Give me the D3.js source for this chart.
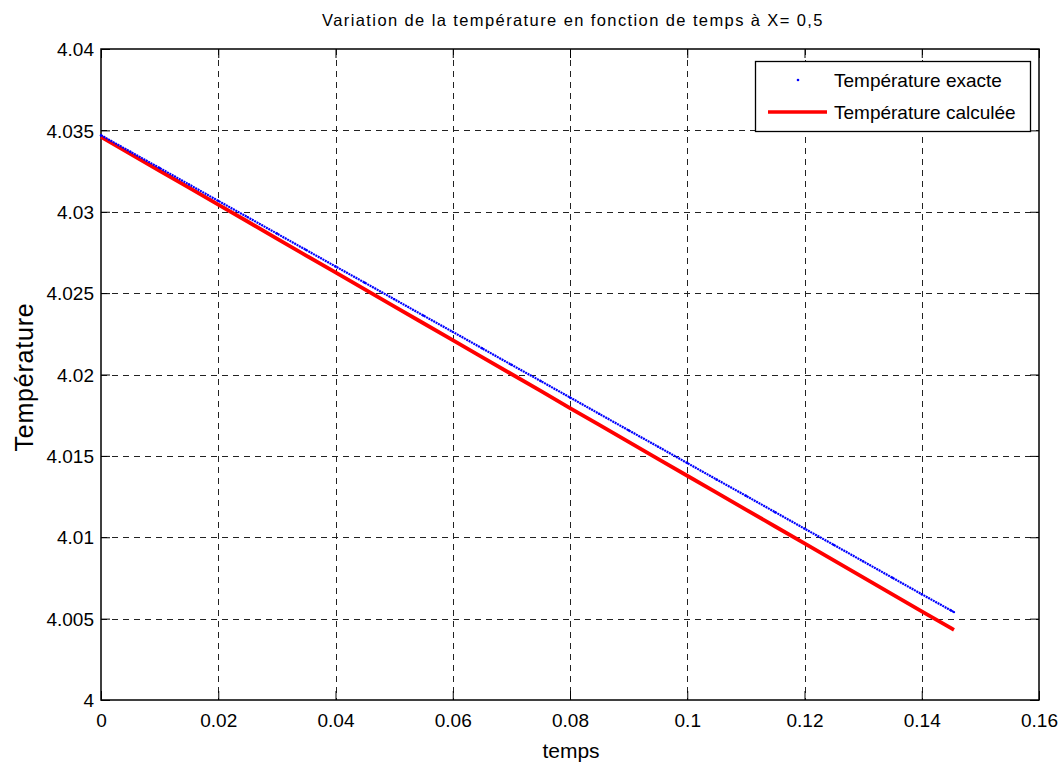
<!DOCTYPE html>
<html><head><meta charset="utf-8">
<script src="https://cdn.jsdelivr.net/npm/d3@7"></script>
<style>
html,body{margin:0;padding:0;background:#fff;}
svg{display:block;font-family:"Liberation Sans",Arial,Helvetica,sans-serif;}
</style></head>
<body><svg id="c" width="1063" height="769"></svg>
<script>
// ---- data ----
const temps = [0,0.005,0.01,0.015,0.02,0.025,0.03,0.035,0.04,0.045,0.05,0.055,0.06,0.065,0.07,0.075,0.08,0.085,0.09,0.095,0.1,0.105,0.11,0.115,0.12,0.125,0.13,0.135,0.14,0.145,0.1455];
const tempExacte = [4.03470,4.03369,4.03269,4.03168,4.03067,4.02967,4.02866,4.02765,4.02664,4.02564,4.02463,4.02362,4.02262,4.02161,4.02060,4.01960,4.01859,4.01758,4.01657,4.01557,4.01456,4.01355,4.01255,4.01154,4.01053,4.00953,4.00852,4.00751,4.00650,4.00550,4.00540];
const tempCalculee = [4.03460,4.03356,4.03252,4.03148,4.03044,4.02940,4.02835,4.02731,4.02627,4.02523,4.02419,4.02315,4.02211,4.02107,4.02003,4.01899,4.01794,4.01690,4.01586,4.01482,4.01378,4.01274,4.01170,4.01066,4.00962,4.00858,4.00754,4.00649,4.00545,4.00441,4.00431];
const xTicks = [0,0.02,0.04,0.06,0.08,0.1,0.12,0.14,0.16];
const xTickLabels = ["0","0.02","0.04","0.06","0.08","0.1","0.12","0.14","0.16"];
const yTicks = [4,4.005,4.01,4.015,4.02,4.025,4.03,4.035,4.04];
const yTickLabels = ["4","4.005","4.01","4.015","4.02","4.025","4.03","4.035","4.04"];
const seriesNames = ["Température exacte","Température calculée"];
const titleText = "Variation de la température en fonction de temps à X= 0,5";
const xLabel = "temps";
const yLabel = "Température";

// ---- layout ----
const L = 101, R = 1039, T = 49, B = 700;
const svg = d3.select("#c");
const x = d3.scaleLinear().domain([0,0.16]).range([L,R]);
const y = d3.scaleLinear().domain([4,4.04]).range([B,T]);

// grid
const grid = svg.append("g").attr("stroke","#222").attr("stroke-width",1).attr("stroke-dasharray","6,5");
grid.selectAll("line.gx").data(xTicks.slice(1,-1)).enter().append("line")
  .attr("x1",d=>Math.round(x(d))+0.5).attr("x2",d=>Math.round(x(d))+0.5).attr("y1",T).attr("y2",B);
grid.selectAll("line.gy").data(yTicks.slice(1,-1)).enter().append("line")
  .attr("y1",d=>Math.round(y(d))+0.5).attr("y2",d=>Math.round(y(d))+0.5).attr("x1",L).attr("x2",R);

// axes with d3 axis generators (inner ticks on all sides)
const tl = 9;
const fmtX = d => xTickLabels[xTicks.indexOf(d)];
const fmtY = d => yTickLabels[yTicks.indexOf(d)];
const axB = svg.append("g").attr("transform",`translate(0,${B})`)
  .call(d3.axisBottom(x).tickValues(xTicks).tickFormat(fmtX).tickSizeInner(-tl).tickSizeOuter(0).tickPadding(14));
const axT = svg.append("g").attr("transform",`translate(0,${T})`)
  .call(d3.axisTop(x).tickValues(xTicks).tickFormat("").tickSizeInner(-tl).tickSizeOuter(0));
const axL = svg.append("g").attr("transform",`translate(${L},0)`)
  .call(d3.axisLeft(y).tickValues(yTicks).tickFormat(fmtY).tickSizeInner(-tl).tickSizeOuter(0).tickPadding(7));
const axR = svg.append("g").attr("transform",`translate(${R},0)`)
  .call(d3.axisRight(y).tickValues(yTicks).tickFormat("").tickSizeInner(-tl).tickSizeOuter(0));
[axB,axT,axL,axR].forEach(a=>{
  a.select(".domain").remove();
  a.selectAll("line").attr("stroke","#000").attr("stroke-width",1);
  a.selectAll("text").attr("fill","#000").attr("font-size",19).attr("font-family","'Liberation Sans',Arial,sans-serif");
});
axL.selectAll("text").attr("dy","0.35em");

// box
svg.append("rect").attr("x",L).attr("y",T).attr("width",R-L).attr("height",B-T)
  .attr("fill","none").attr("stroke","#000").attr("stroke-width",1.5);

// series
const lineGen = (vals) => d3.line().x((d,i)=>x(temps[i])).y((d,i)=>y(vals[i]))(vals);
svg.append("path").attr("d",lineGen(tempCalculee)).attr("fill","none").attr("stroke","#ff0000").attr("stroke-width",3.8).attr("stroke-linejoin","round");
svg.append("path").attr("d",lineGen(tempExacte)).attr("fill","none").attr("stroke","#0000ff").attr("stroke-width",2.2).attr("stroke-dasharray","2,0.7");
svg.append("g").selectAll("circle").data(tempExacte).enter().append("circle")
  .attr("cx",(d,i)=>x(temps[i])).attr("cy",d=>y(d)).attr("r",1.2).attr("fill","#0000ff");

// legend
const lg = svg.append("g");
lg.append("rect").attr("x",755.5).attr("y",61.5).attr("width",275).attr("height",70)
  .attr("fill","#fff").attr("stroke","#000").attr("stroke-width",1.3);
lg.append("circle").attr("cx",798).attr("cy",80).attr("r",1.3).attr("fill","#0000ff");
lg.append("line").attr("x1",768).attr("x2",827).attr("y1",112).attr("y2",112).attr("stroke","#ff0000").attr("stroke-width",3.5);
lg.selectAll("text").data(seriesNames).enter().append("text")
  .attr("x",834).attr("y",(d,i)=>i===0?87:119).attr("font-size",19).attr("fill","#000").text(d=>d);

// titles
svg.append("text").attr("x",573).attr("y",26).attr("text-anchor","middle").attr("font-size",16.5).attr("letter-spacing",1.4).text(titleText);
svg.append("text").attr("x",571).attr("y",758).attr("text-anchor","middle").attr("font-size",21).text(xLabel);
svg.append("text").attr("transform","translate(33,377) rotate(-90)").attr("text-anchor","middle").attr("font-size",25).attr("letter-spacing",0.8).text(yLabel);
</script></body></html>
